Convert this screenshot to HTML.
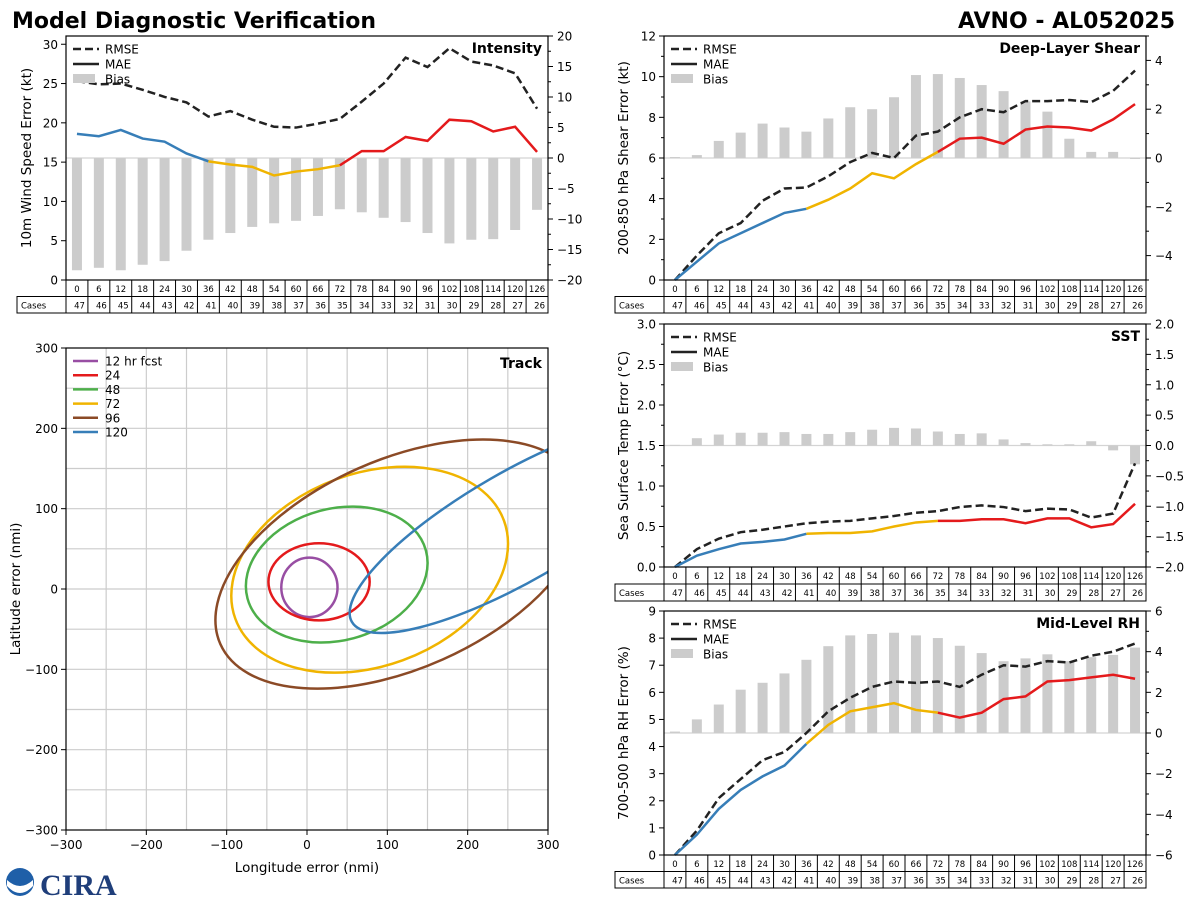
<!DOCTYPE html>
<html><head><meta charset="utf-8">
<style>
html,body{margin:0;padding:0;background:#fff;}
svg{display:block;font-family:"DejaVu Sans","Liberation Sans",sans-serif;}
</style></head>
<body>
<svg id="c" width="1200" height="900" xmlns="http://www.w3.org/2000/svg">
<text x="12" y="28" font-size="22" font-weight="bold" fill="#000">Model Diagnostic Verification</text>
<text x="1175" y="28" font-size="22" font-weight="bold" text-anchor="end" fill="#000">AVNO - AL052025</text>
<g>
<circle cx="20" cy="882" r="14" fill="#1f5fa8"/>
<path d="M7 880 Q20 892 33 880 L33 886 Q20 900 7 886 Z" fill="#fff"/>
<text x="40" y="895" font-size="30" font-weight="bold" fill="#1f3e7a" font-family="Liberation Serif, serif">CIRA</text>
</g>
</svg>
<script>
const NS='http://www.w3.org/2000/svg';
const svg=document.getElementById('c');
const hours=[0,6,12,18,24,30,36,42,48,54,60,66,72,78,84,90,96,102,108,114,120,126];
const cases=[47,46,45,44,43,42,41,40,39,38,37,36,35,34,33,32,31,30,29,28,27,26];

const intRmse=[25.3,24.9,25.0,24.2,23.3,22.6,20.8,21.5,20.4,19.5,19.4,19.9,20.5,22.7,25.0,28.3,27.1,29.5,27.8,27.3,26.3,21.8];
const intMae=[18.6,18.3,19.1,18.0,17.6,16.1,15.1,14.7,14.4,13.3,13.8,14.1,14.6,16.4,16.4,18.2,17.7,20.4,20.2,18.9,19.5,16.3];
const intBias=[-18.4,-18.0,-18.4,-17.5,-16.9,-15.2,-13.4,-12.3,-11.3,-10.7,-10.3,-9.5,-8.4,-8.9,-9.8,-10.5,-12.3,-14.0,-13.4,-13.3,-11.8,-8.5];

const shrRmse=[0,1.2,2.3,2.8,3.9,4.5,4.55,5.1,5.8,6.25,6.0,7.1,7.3,8.0,8.4,8.25,8.8,8.8,8.85,8.75,9.3,10.3];
const shrMae=[0,0.9,1.8,2.3,2.8,3.3,3.5,3.95,4.5,5.25,5.0,5.7,6.3,6.95,7.0,6.7,7.4,7.55,7.5,7.35,7.9,8.65];
const shrBias=[0.04,0.12,0.7,1.04,1.41,1.25,1.08,1.62,2.08,2.0,2.49,3.4,3.44,3.28,2.99,2.74,2.32,1.9,0.79,0.25,0.25,-0.04];

const sstRmse=[0,0.22,0.35,0.43,0.46,0.50,0.54,0.56,0.57,0.60,0.63,0.67,0.69,0.74,0.76,0.74,0.69,0.72,0.71,0.61,0.66,1.28];
const sstMae=[0,0.14,0.22,0.29,0.31,0.34,0.41,0.42,0.42,0.44,0.50,0.55,0.57,0.57,0.59,0.59,0.54,0.60,0.60,0.49,0.53,0.78];
const sstBias=[0.01,0.12,0.18,0.21,0.21,0.22,0.19,0.19,0.22,0.26,0.29,0.28,0.23,0.19,0.2,0.1,0.04,0.02,0.02,0.07,-0.08,-0.31];

const rhRmse=[0,0.9,2.1,2.8,3.5,3.8,4.5,5.3,5.8,6.2,6.4,6.35,6.4,6.2,6.65,7.0,6.95,7.15,7.1,7.35,7.5,7.8];
const rhMae=[0,0.75,1.7,2.4,2.9,3.3,4.1,4.8,5.3,5.45,5.6,5.35,5.25,5.07,5.25,5.75,5.85,6.4,6.45,6.55,6.65,6.5];
const rhBias=[0.07,0.67,1.4,2.13,2.47,2.93,3.6,4.27,4.8,4.87,4.93,4.8,4.67,4.29,3.93,3.53,3.67,3.87,3.53,3.73,3.84,4.2];

// track ellipses in nmi
const trackLabels=['12 hr fcst','24','48','72','96','120'];
const trackColors=['#984ea3','#e41a1c','#4daf4a','#f0b400','#8b4a26','#377eb8'];
const trackCx=[3,15,37,78,116,262];
const trackCy=[2,9,18,24,31,78];
const trackA=[35,63,115,178,245,238];
const trackB=[37,48,82,120,130,68];
const trackAng=[0,0,15,20,24,30];

function el(tag,attrs,parent){const e=document.createElementNS(NS,tag);for(const k in attrs)e.setAttribute(k,attrs[k]);(parent||svg).appendChild(e);return e;}
function txt(x,y,s,size,anchor,parent,extra){const t=el('text',Object.assign({x:x,y:y,'font-size':size,'text-anchor':anchor||'start',fill:'#000'},extra||{}),parent);t.textContent=s;return t;}

function panel(o){
  const g=el('g',{});
  
  
  const {x0,x1,y0,y1}=o;
  const n=hours.length, cw=(x1-x0)/n;
  const X=i=>x0+cw*(i+0.5);
  const YL=v=>y1-(v-o.lmin)/(o.lmax-o.lmin)*(y1-y0);
  const YR=v=>y1-(v-o.rmin)/(o.rmax-o.rmin)*(y1-y0);
  const zl=el('line',{x1:x0,x2:x1,y1:YR(0),y2:YR(0),stroke:'#d4d4d4','stroke-width':1.2},g);
  
  
  o.bias.forEach((b,i)=>{
    const ya=YR(0),yb=YR(b);
    const r=el('rect',{x:X(i)-5,y:Math.min(ya,yb),width:10,height:Math.max(0.8,Math.abs(yb-ya)),fill:'#cccccc'},g);
    
    
  });
  const rp=o.rmse.map((v,i)=>X(i)+','+YL(v)).join(' ');
  const rl=el('polyline',{points:rp,fill:'none',stroke:'#222','stroke-width':2.5,'stroke-dasharray':'8,4'},g);
  
  
  const segs=[[0,6,'#377eb8'],[6,12,'#f0b400'],[12,21,'#e41a1c']];
  segs.forEach(s=>{
    const pts=[];for(let i=s[0];i<=s[1];i++)pts.push(X(i)+','+YL(o.mae[i]));
    const m=el('polyline',{points:pts.join(' '),fill:'none',stroke:s[2],'stroke-width':2.5},g);
    
    
  });
  el('rect',{x:x0,y:y0,width:x1-x0,height:y1-y0,fill:'none',stroke:'#000','stroke-width':1.2},g);
  o.lticks.forEach(v=>{const y=YL(v);el('line',{x1:x0-5,x2:x0,y1:y,y2:y,stroke:'#000'},g);txt(x0-8,y+4.5,o.lfmt(v),12,'end',g);});
  o.rticks.forEach(v=>{const y=YR(v);el('line',{x1:x1,x2:x1+5,y1:y,y2:y,stroke:'#000'},g);txt(x1+9,y+4.5,o.rfmt(v),12,'start',g);});
  (o.rminor||[]).forEach(v=>{const y=YR(v);el('line',{x1:x1,x2:x1+3,y1:y,y2:y,stroke:'#000'},g);});
  (o.lminor||[]).forEach(v=>{const y=YL(v);el('line',{x1:x0-3,x2:x0,y1:y,y2:y,stroke:'#000'},g);});
  const yl=txt(0,0,o.ylabel,13.5,'middle',g,{transform:`translate(${o.ylx},${(y0+y1)/2}) rotate(-90)`});
  
  
  const pt=txt(x1-6,y0+17,o.title,14,'end',g,{'font-weight':'bold'});
  
  
  const lg=el('g',{},g);
  
  
  const lx=x0+7, ly=y0+13;
  el('line',{x1:lx,x2:lx+26,y1:ly,y2:ly,stroke:'#222','stroke-width':2.5,'stroke-dasharray':'8,4'},lg);
  txt(lx+32,ly+4.5,'RMSE',12,'start',lg);
  el('line',{x1:lx,x2:lx+26,y1:ly+15,y2:ly+15,stroke:'#222','stroke-width':2.5},lg);
  txt(lx+32,ly+19.5,'MAE',12,'start',lg);
  el('rect',{x:lx,y:ly+25,width:22,height:9,fill:'#cccccc'},lg);
  txt(lx+32,ly+34.5,'Bias',12,'start',lg);
  const tb=el('g',{},g);
  
  
  const r1=y1, r2=y1+o.rh, r3=y1+2*o.rh;
  el('rect',{x:x0,y:r1,width:x1-x0,height:o.rh,fill:'none',stroke:'#000'},tb);
  el('rect',{x:o.tx,y:r2,width:x1-o.tx,height:o.rh,fill:'none',stroke:'#000'},tb);
  el('line',{x1:x0,x2:x0,y1:r2,y2:r3,stroke:'#000'},tb);
  txt(o.tx+4,r2+o.rh/2+3.5,'Cases',8.5,'start',tb);
  hours.forEach((h,i)=>{
    const cx=x0+cw*i;
    if(i>0)el('line',{x1:cx,x2:cx,y1:r1,y2:r3,stroke:'#000'},tb);
    txt(X(i),r1+o.rh/2+3.5,String(h),8.5,'middle',tb);
    txt(cx+cw-3,r2+o.rh/2+3.5,String(cases[i]),8.5,'end',tb);
  });
}
const rng=(a,b,s)=>{const r=[];for(let v=a;v<=b+1e-9;v+=s)r.push(+v.toFixed(3));return r;};
const minus=s=>String(s).replace('-','\u2212');

panel({name:'intensity',x0:66,x1:548,y0:36,y1:280,lmin:0,lmax:31.05,rmin:-20,rmax:20,
  rmse:intRmse,mae:intMae,bias:intBias,lticks:rng(0,30,5),rticks:rng(-20,20,5),rminor:rng(-17.5,17.5,5),
  lfmt:v=>String(v),rfmt:v=>minus(v),ylabel:'10m Wind Speed Error (kt)',ylx:31,title:'Intensity',tx:17,rh:16.5});
panel({name:'shear',x0:664,x1:1146,y0:36,y1:280,lmin:0,lmax:12,rmin:-5,rmax:5,
  rmse:shrRmse,mae:shrMae,bias:shrBias,lticks:rng(0,12,2),lminor:rng(1,11,2),rticks:[-4,-2,0,2,4],rminor:[-5,-3,-1,1,3,5],
  lfmt:v=>String(v),rfmt:v=>minus(v),ylabel:'200-850 hPa Shear Error (kt)',ylx:628,title:'Deep-Layer Shear',tx:615,rh:16.5});
panel({name:'sst',x0:664,x1:1146,y0:324,y1:567,lmin:0,lmax:3,rmin:-2,rmax:2,
  rmse:sstRmse,mae:sstMae,bias:sstBias,lticks:rng(0,3,0.5),lminor:rng(0.25,2.75,0.5),rticks:rng(-2,2,0.5),rminor:rng(-1.75,1.75,0.5),
  lfmt:v=>v.toFixed(1),rfmt:v=>minus(v.toFixed(1)),ylabel:'Sea Surface Temp Error (\u00B0C)',ylx:628,title:'SST',tx:615,rh:17});
panel({name:'rh',x0:664,x1:1146,y0:611,y1:855,lmin:0,lmax:9,rmin:-6,rmax:6,
  rmse:rhRmse,mae:rhMae,bias:rhBias,lticks:rng(0,9,1),rticks:rng(-6,6,2),rminor:rng(-5,5,2),
  lfmt:v=>String(v),rfmt:v=>minus(v),ylabel:'700-500 hPa RH Error (%)',ylx:628,title:'Mid-Level RH',tx:615,rh:16.5});

(function(){
  const x0=66,x1=548,y0=348,y1=830;
  const g=el('g',{});
  
  
  const X=v=>x0+(v+300)/600*(x1-x0);
  const Y=v=>y1-(v+300)/600*(y1-y0);
  const defs=el('defs',{},g);
  const cp=el('clipPath',{id:'trk'},defs);
  el('rect',{x:x0,y:y0,width:x1-x0,height:y1-y0},cp);
  for(let v=-250;v<=250;v+=50){
    el('line',{x1:X(v),x2:X(v),y1:y0,y2:y1,stroke:'#cccccc','stroke-width':1.2},g);
    el('line',{x1:x0,x2:x1,y1:Y(v),y2:Y(v),stroke:'#cccccc','stroke-width':1.2},g);
  }
  const eg=el('g',{'clip-path':'url(#trk)'},g);
  trackLabels.forEach((lab,i)=>{
    const s=(x1-x0)/600;
    const e=el('ellipse',{cx:X(trackCx[i]),cy:Y(trackCy[i]),rx:trackA[i]*s,ry:trackB[i]*s,fill:'none',stroke:trackColors[i],'stroke-width':2.5,
      transform:`rotate(${-trackAng[i]} ${X(trackCx[i])} ${Y(trackCy[i])})`},eg);
    
    
  });
  el('rect',{x:x0,y:y0,width:x1-x0,height:y1-y0,fill:'none',stroke:'#000','stroke-width':1.2},g);
  for(let v=-300;v<=300;v+=100){
    el('line',{x1:X(v),x2:X(v),y1:y1,y2:y1+5,stroke:'#000'},g);
    txt(X(v),y1+19,minus(v),12,'middle',g);
    el('line',{x1:x0-5,x2:x0,y1:Y(v),y2:Y(v),stroke:'#000'},g);
    txt(x0-8,Y(v)+4.5,minus(v),12,'end',g);
  }
  const xt=txt((x0+x1)/2,872,'Longitude error (nmi)',13.5,'middle',g);
  
  
  const yt=txt(0,0,'Latitude error (nmi)',13.5,'middle',g,{transform:`translate(20,${(y0+y1)/2}) rotate(-90)`});
  
  
  const tt=txt(x1-6,y0+20,'Track',14,'end',g,{'font-weight':'bold'});
  
  
  const lg=el('g',{},g);
  
  
  trackLabels.forEach((lab,i)=>{
    const y=y0+13+i*14.2;
    el('line',{x1:x0+7,x2:x0+32,y1:y,y2:y,stroke:trackColors[i],'stroke-width':2.5},lg);
    txt(x0+39,y+4.5,lab,12,'start',lg);
  });
})();
</script>
</body></html>
